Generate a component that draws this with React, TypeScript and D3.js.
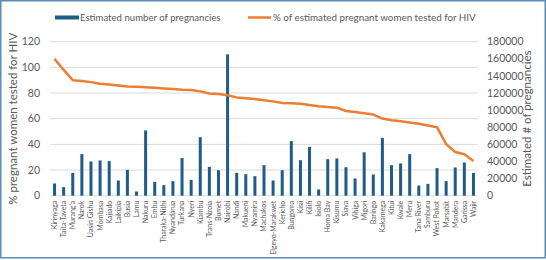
import React from "react";
import * as d3 from "d3";

const counties = [
  "Kirinyaga", "Taita-Taveta", "Murang'a", "Narok", "Uasin Gishu", "Mombasa", "Kajiado", "Laikipia",
  "Busia", "Lamu", "Nakuru", "Embu", "Tharaka-Nithi", "Nyandarua", "Turkana", "Nyeri", "Kiambu",
  "Trans-Nzoia", "Bomet", "Nairobi", "Nandi", "Makueni", "Nyamira", "Machakos", "Elgeyo-Marakwet",
  "Kericho", "Bungoma", "Kisii", "Kilifi", "Isiolo", "Homa Bay", "Kisumu", "Siaya", "Vihiga", "Migori",
  "Baringo", "Kakamega", "Kitui", "Kwale", "Meru", "Tana River", "Samburu", "West Pokot", "Marsabit",
  "Mandera", "Garissa", "Wajir",
];

const pregnancies = [
  14300, 10000, 26700, 48600, 40000, 41200, 40400, 17800, 30200, 4900, 76300, 16200, 12300, 17000,
  44000, 18500, 68400, 33700, 29800, 165200, 26700, 25200, 22800, 35700, 17800, 29800, 63800, 41500,
  57100, 7300, 42700, 43500, 33300, 20100, 50700, 24800, 67600, 35700, 37700, 48600, 11900, 13800,
  32200, 17000, 33000, 38800, 26700,
];

const pctTested = [
  106.6, 98, 90, 89.3, 88.5, 87.2, 86.7, 85.9, 85.1, 84.9, 84.6, 84.1, 83.6, 83.1, 82.5, 82.3, 81.3,
  79.7, 79.2, 78.2, 76.6, 75.9, 75.3, 74.3, 73.5, 72.2, 72, 71.7, 70.7, 69.7, 69.2, 68.6, 66, 65.3,
  64.3, 63.2, 60.1, 58.8, 58, 57, 56, 54.7, 53.4, 40.2, 34, 32.3, 27.1,
];

const leftTicks = [0, 20, 40, 60, 80, 100, 120];
const rightTicks = [0, 20000, 40000, 60000, 80000, 100000, 120000, 140000, 160000, 180000];

const W = 546;
const H = 260;
const plotL = 50;
const plotR = 478;
const plotTop = 41.7;
const plotBottom = 195.7;

const barColor = "#1F5C88";
const lineColor = "#ED7D31";
const textColor = "#595959";
const gridColor = "#D9D9D9";
const font = "Lato, 'Open Sans', sans-serif";

export default function App() {
  const x = d3.scaleBand<string>().domain(counties).range([plotL, plotR]).paddingInner(0).paddingOuter(0);
  const yL = d3.scaleLinear().domain([0, 120]).range([plotBottom, plotTop]);
  const yR = d3.scaleLinear().domain([0, 180000]).range([plotBottom, plotTop]);
  const barW = 3;

  const line = d3
    .line<number>()
    .x((_, i) => (x(counties[i]) as number) + x.bandwidth() / 2)
    .y((d) => yL(d));

  const midY = (plotTop + plotBottom) / 2;

  return (
    <svg
      width={W}
      height={H}
      style={{ position: "absolute", left: 0, top: 0, background: "#fff" }}
      fontFamily={font}
    >
      <rect x={0.75} y={0.75} width={W - 1.5} height={H - 3} fill="#fff" stroke="#5B8DB8" strokeWidth={1.5} />
      {leftTicks.map((t) => (
        <line key={t} x1={plotL} x2={plotR} y1={yL(t)} y2={yL(t)} stroke={gridColor} strokeWidth={1} />
      ))}
      {leftTicks.map((t) => (
        <text key={t} x={40} y={yL(t)} dy="0.35em" textAnchor="end" fontSize={10.5} fill={textColor}>
          {t}
        </text>
      ))}
      {rightTicks.map((t) => (
        <text key={t} x={487} y={yR(t)} dy="0.35em" textAnchor="start" fontSize={10.5} fill={textColor}>
          {t}
        </text>
      ))}
      <text
        transform={`translate(17,${midY}) rotate(-90)`}
        textAnchor="middle"
        fontSize={11.5}
        fill={textColor}
      >
        % pregnant women tested for HIV
      </text>
      <text
        transform={`translate(531,${midY}) rotate(-90)`}
        textAnchor="middle"
        fontSize={11.5}
        fill={textColor}
      >
        Estimated # of pregnancies
      </text>
      {pregnancies.map((v, i) => {
        const cx = (x(counties[i]) as number) + x.bandwidth() / 2;
        return (
          <rect key={i} x={cx - barW / 2} y={yR(v)} width={barW} height={yR(0) - yR(v)} fill={barColor} />
        );
      })}
      <path d={line(pctTested) || ""} fill="none" stroke={lineColor} strokeWidth={2.5} strokeLinejoin="round" />
      {counties.map((c) => {
        const cx = (x(c) as number) + x.bandwidth() / 2;
        return (
          <text
            key={c}
            transform={`translate(${cx},${plotBottom + 5}) rotate(-90)`}
            textAnchor="end"
            dy="0.35em"
            fontSize={7}
            fill={textColor}
          >
            {c}
          </text>
        );
      })}
      <rect x={55} y={15.5} width={24} height={4} fill={barColor} />
      <text x={80} y={17.5} dy="0.35em" fontSize={9.6} fill={textColor}>
        Estimated number of pregnancies
      </text>
      <line x1={248} x2={271} y1={17.5} y2={17.5} stroke={lineColor} strokeWidth={2.5} />
      <text x={273} y={17.5} dy="0.35em" fontSize={9.8} fill={textColor}>
        % of estimated pregnant women tested for HIV
      </text>
    </svg>
  );
}
